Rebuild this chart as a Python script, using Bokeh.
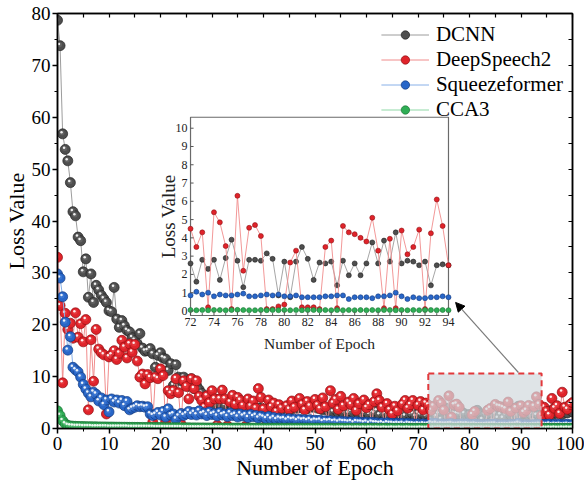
import math
from bokeh.plotting import figure
from bokeh.models import (Range1d, LinearAxis, FixedTicker, Legend, LegendItem,
                          Arrow, NormalHead, ColumnDataSource)
from bokeh.core.properties import value
from bokeh.embed import file_html
from bokeh.resources import INLINE

# ---------------- data ----------------
EPOCHS = [i / 2 for i in range(201)]

DCNN = [
    78.7, 73.8, 56.8, 53.8, 51.6, 47.4, 41.8, 41.0, 36.9, 36.2,
    30.2, 32.7, 25.3, 29.8, 24.3, 27.6, 26.7, 25.7, 25.0, 24.3,
    22.7, 22.5, 27.2, 21.1, 19.5, 20.8, 19.8, 18.9, 18.6, 17.5,
    17.0, 16.3, 18.3, 15.5, 14.9, 15.0, 15.4, 14.4, 11.8, 14.1,
    14.6, 13.6, 13.4, 11.2, 12.5, 8.3, 12.3, 9.9, 9.2, 9.9,
    8.9, 8.1, 9.6, 7.7, 8.3, 7.5, 6.8, 6.0, 5.1, 6.2,
    5.5, 4.6, 5.6, 4.8, 5.3, 4.4, 5.0, 4.7, 4.2, 4.9,
    4.5, 3.9, 4.6, 4.1, 4.4, 3.6, 4.2, 3.8, 3.5, 4.0,
    3.4, 3.7, 3.2, 3.8, 3.5, 3.1, 3.6, 3.3, 3.9, 3.4,
    4.1, 3.7, 4.3, 3.9, 4.6, 4.0, 4.4, 3.8, 4.5, 4.1,
    4.8, 3.9, 4.3, 3.6, 4.0, 3.5, 3.8, 3.2, 3.6, 3.1,
    3.4, 3.0, 3.5, 2.9, 3.3, 3.0, 3.4, 2.8, 3.2, 2.9,
    3.3, 2.7, 3.1, 2.9, 3.4, 2.6, 3.0, 2.8, 3.2, 2.5,
    3.0, 2.7, 3.1, 2.6, 2.9, 2.4, 3.0, 2.7, 2.8, 2.3,
    2.9, 2.6, 2.8, 2.4, 2.6, 1.6, 2.8, 2.3, 2.8, 1.7,
    2.9, 3.9, 2.75, 1.3, 2.8, 2.8, 2.75, 3.15, 2.85, 0.85,
    2.7, 0.75, 2.7, 3.5, 2.85, 1.7, 2.65, 2.6, 2.7, 1.4,
    2.75, 1.95, 2.6, 1.95, 2.6, 3.75, 2.6, 3.85, 2.7, 4.3,
    2.6, 2.75, 2.7, 2.5, 2.7, 1.4, 2.5, 2.55, 2.5, 3.1,
    2.8, 3.4, 2.6, 3.2, 2.9, 3.5, 2.7, 3.3, 3.0, 3.6,
    3.2,
]

DEEPSPEECH2 = [
    33.0, 23.7, 8.8, 22.2, 19.1, 20.3, 17.4, 22.3, 17.6, 20.2,
    16.7, 21.0, 3.6, 17.1, 9.1, 19.1, 15.3, 14.6, 14.2, 2.8,
    13.8, 14.2, 15.0, 13.3, 14.5, 17.0, 15.7, 13.6, 16.3, 14.7,
    16.2, 13.0, 9.9, 10.5, 8.6, 10.4, 9.8, 1.2, 9.9, 9.6,
    11.5, 10.2, 1.3, 7.3, 6.7, 7.3, 9.6, 6.9, 0.8, 9.2,
    8.1, 5.7, 9.6, 7.7, 9.2, 6.2, 5.4, 4.1, 6.3, 5.0,
    7.3, 5.7, 0.6, 5.7, 7.4, 5.7, 0.5, 5.1, 6.4, 4.7,
    6.0, 5.4, 4.4, 0.4, 5.7, 4.3, 5.3, 3.9, 7.7, 6.0,
    3.8, 0.5, 5.5, 4.2, 4.9, 3.3, 4.6, 3.9, 0.6, 4.4,
    3.7, 5.3, 4.1, 0.4, 5.8, 4.7, 3.6, 5.2, 4.3, 0.5,
    5.6, 4.5, 3.8, 5.9, 4.2, 0.4, 7.3, 4.9, 5.6, 3.7,
    6.2, 4.4, 0.3, 5.1, 4.6, 5.8, 3.5, 4.8, 0.4, 5.5,
    4.0, 4.6, 0.3, 5.2, 6.7, 5.4, 4.1, 0.4, 4.8, 3.6,
    2.8, 4.3, 3.4, 0.3, 4.7, 5.4, 3.9, 4.6, 5.4, 0.3,
    4.5, 5.2, 3.6, 4.9, 4.5, 3.5, 4.3, 0.2, 5.4, 4.85,
    3.55, 0.1, 6.3, 2.2, 4.55, 4.7, 4.1, 0.1, 0.1, 0.25,
    0.35, 2.65, 3.3, 0.2, 0.2, 0.2, 0.1, 3.5, 3.85, 0.15,
    4.65, 4.3, 4.2, 4.0, 3.8, 5.1, 3.3, 0.15, 3.95, 0.15,
    4.4, 3.1, 3.5, 4.45, 0.1, 4.25, 6.1, 4.65, 2.5, 4.1,
    3.3, 2.6, 5.8, 3.9, 4.4, 2.9, 7.0, 4.1, 3.7, 4.6,
    5.0,
]

SQUEEZEFORMER = [
    29.8, 29.0, 25.4, 20.5, 15.1, 17.7, 11.8, 11.3, 10.9, 9.9,
    8.5, 7.6, 6.8, 6.1, 7.0, 6.6, 5.3, 5.9, 4.6, 5.5,
    3.2, 5.7, 5.1, 5.5, 4.9, 5.4, 4.4, 5.2, 3.6, 3.9,
    4.1, 4.4, 4.2, 4.3, 4.1, 4.2, 2.8, 2.5, 2.7, 3.1,
    2.6, 3.3, 2.2, 3.8, 2.6, 2.8, 1.8, 2.4, 2.9, 2.5,
    2.8, 3.3, 2.7, 3.1, 2.6, 3.4, 2.8, 3.0, 2.5, 3.2,
    2.7, 2.9, 2.4, 3.1, 2.6, 2.8, 2.3, 3.0, 2.5, 2.7,
    2.2, 2.8, 2.4, 2.6, 2.1, 2.7, 2.3, 2.5, 2.0, 2.4,
    2.2, 1.9, 2.3, 1.8, 2.1, 1.7, 2.0, 1.8, 1.9, 1.6,
    1.9, 1.7, 1.8, 1.5, 1.8, 1.6, 1.7, 1.5, 1.7, 1.4,
    1.6, 1.5, 1.6, 1.3, 1.5, 1.4, 1.5, 1.3, 1.4, 1.2,
    1.4, 1.3, 1.3, 1.2, 1.3, 1.1, 1.3, 1.2, 1.2, 1.1,
    1.2, 1.0, 1.2, 1.1, 1.1, 1.0, 1.1, 0.9, 1.1, 1.0,
    1.0, 0.9, 1.0, 0.9, 1.0, 0.8, 1.0, 0.9, 0.9, 0.8,
    0.9, 0.8, 0.9, 0.8, 0.85, 1.05, 0.9, 1.0, 0.8, 0.9,
    0.85, 0.85, 0.9, 0.95, 0.8, 0.8, 0.85, 0.9, 0.85, 0.9,
    0.8, 0.8, 0.85, 0.75, 0.75, 0.75, 0.75, 0.8, 0.8, 0.85,
    0.85, 0.65, 0.75, 0.75, 0.75, 0.7, 0.8, 0.8, 0.85, 1.0,
    0.8, 0.65, 0.75, 0.7, 0.7, 0.75, 0.75, 0.8, 0.75, 0.8,
    0.75, 0.85, 0.7, 0.8, 0.75, 0.8, 0.7, 0.75, 0.8, 0.7,
    0.75,
]

CCA3 = [
    3.4, 2.5, 1.5, 0.9, 0.6, 0.5, 0.45, 0.42, 0.4, 0.38,
    0.37, 0.36, 0.35, 0.34, 0.33, 0.32, 0.31, 0.3, 0.3, 0.29,
    0.28, 0.28, 0.27, 0.26, 0.26, 0.25, 0.25, 0.24, 0.23, 0.23,
    0.22, 0.22, 0.21, 0.21, 0.2, 0.2, 0.19, 0.19, 0.18, 0.18,
    0.17, 0.17, 0.16, 0.16, 0.15, 0.15, 0.15, 0.14, 0.14, 0.13,
    0.13, 0.13, 0.12, 0.12, 0.12, 0.11, 0.11, 0.11, 0.1, 0.1,
    0.10, 0.09, 0.10, 0.09, 0.09, 0.08, 0.09, 0.08, 0.08, 0.08,
    0.08, 0.07, 0.08, 0.07, 0.07, 0.08, 0.07, 0.07, 0.06, 0.07,
    0.07, 0.06, 0.07, 0.06, 0.06, 0.07, 0.06, 0.06, 0.06, 0.05,
    0.06, 0.06, 0.05, 0.06, 0.05, 0.06, 0.05, 0.05, 0.06, 0.05,
    0.05, 0.06, 0.05, 0.05, 0.05, 0.06, 0.05, 0.05, 0.04, 0.05,
    0.05, 0.05, 0.04, 0.05, 0.05, 0.04, 0.05, 0.05, 0.04, 0.05,
    0.04, 0.05, 0.05, 0.04, 0.05, 0.04, 0.04, 0.05, 0.04, 0.04,
    0.05, 0.04, 0.04, 0.05, 0.04, 0.04, 0.05, 0.04, 0.04, 0.04,
    0.04, 0.05, 0.04, 0.04, 0.05, 0.04, 0.05, 0.04, 0.05, 0.05,
    0.04, 0.05, 0.06, 0.05, 0.04, 0.04, 0.05, 0.04, 0.05, 0.04,
    0.05, 0.04, 0.05, 0.04, 0.05, 0.05, 0.04, 0.05, 0.04, 0.05,
    0.04, 0.05, 0.04, 0.05, 0.04, 0.05, 0.04, 0.05, 0.05, 0.04,
    0.05, 0.04, 0.05, 0.04, 0.05, 0.05, 0.04, 0.05, 0.04, 0.05,
    0.04, 0.05, 0.04, 0.05, 0.04, 0.04, 0.05, 0.04, 0.05, 0.04,
    0.05,
]

SERIES_NAMES = ["DCNN", "DeepSpeech2", "Squeezeformer", "CCA3"]
SERIES_VALUES = [DCNN, DEEPSPEECH2, SQUEEZEFORMER, CCA3]

X_TICKS = [0, 10, 20, 30, 40, 50, 60, 70, 80, 90, 100]
Y_TICKS = [0, 10, 20, 30, 40, 50, 60, 70, 80]
INSET_X_TICKS = [72, 74, 76, 78, 80, 82, 84, 86, 88, 90, 92, 94]
INSET_Y_TICKS = [0, 1, 2, 3, 4, 5, 6, 7, 8, 9, 10]

ZOOM_X = (72, 94)
ZOOM_Y = (-0.25, 10.6)

for s in SERIES_VALUES:
    assert len(s) == len(EPOCHS), len(s)

# ---------------- style ----------------
SERIF = "Liberation Serif"
STYLES = {
    "DCNN":          dict(base="#4e4e4e", edge="#222222", mid="#8e8e8e", line="#9c9c9c"),
    "DeepSpeech2":   dict(base="#e0232a", edge="#8e1014", mid="#f26a6a", line="#f08c8c"),
    "Squeezeformer": dict(base="#2866c8", edge="#143b80", mid="#6e9fe8", line="#88b0e8"),
    "CCA3":          dict(base="#2fae55", edge="#1c7436", mid="#80d69c", line="#8fd8a6"),
}

p = figure(width=584, height=483, x_range=Range1d(0, 100), y_range=Range1d(0, 80),
           output_backend="svg", toolbar_location=None,
           min_border_left=57, min_border_right=12, min_border_top=13, min_border_bottom=55,
           x_axis_label="Number of Epoch", y_axis_label="Loss Value")
p.grid.visible = False
p.outline_line_color = "black"
p.outline_line_width = 1.5
p.background_fill_color = "white"
p.border_fill_color = "white"

x_minor = [t + 5 for t in X_TICKS[:-1]]
y_minor = [t + 5 for t in Y_TICKS[:-1]]
p.xaxis.ticker = FixedTicker(ticks=X_TICKS, minor_ticks=x_minor)
p.yaxis.ticker = FixedTicker(ticks=Y_TICKS, minor_ticks=y_minor)
for ax in (p.xaxis[0], p.yaxis[0]):
    ax.axis_line_width = 1.5
    ax.major_tick_line_width = 1.5
    ax.minor_tick_line_width = 1
    ax.major_tick_out = 5
    ax.major_tick_in = 0
    ax.minor_tick_out = 3
    ax.minor_tick_in = 0
    ax.major_label_text_font = SERIF
    ax.major_label_text_font_size = "19px"
    ax.major_label_text_color = "black"
    ax.axis_label_text_font = SERIF
    ax.axis_label_text_font_size = "22px"
    ax.axis_label_text_font_style = "normal"
    ax.axis_label_text_color = "black"
p.xaxis.major_label_standoff = 3
p.xaxis.axis_label_standoff = 2
p.yaxis.major_label_standoff = 2
p.yaxis.axis_label_standoff = 0

# mirrored tick marks on top/right (minor-only ticker -> no labels)
top_ax = LinearAxis(ticker=FixedTicker(ticks=[], minor_ticks=X_TICKS + x_minor),
                    minor_tick_in=4, minor_tick_out=0, axis_line_width=1.5,
                    minor_tick_line_width=1.2)
right_ax = LinearAxis(ticker=FixedTicker(ticks=[], minor_ticks=Y_TICKS + y_minor),
                      minor_tick_in=4, minor_tick_out=0, axis_line_width=1.5,
                      minor_tick_line_width=1.2)
p.add_layout(top_ax, "above")
p.add_layout(right_ax, "right")

# ---------------- main series (shaded spheres) ----------------
DX, DY = -0.22, 0.32   # highlight offset in data units (sphere shading)
legend_items = []
for name, vals in zip(SERIES_NAMES, SERIES_VALUES):
    st = STYLES[name]
    src = ColumnDataSource(dict(
        x=EPOCHS, y=vals,
        xm=[x + DX * 0.5 for x in EPOCHS], ym=[y + DY * 0.5 for y in vals],
        xh=[x + DX for x in EPOCHS], yh=[y + DY for y in vals],
    ))
    lr = p.line("x", "y", source=src, line_color=st["line"], line_width=1)
    br = p.scatter("x", "y", source=src, size=10, marker="circle",
                   fill_color=st["base"], line_color=st["edge"], line_width=0.7)
    p.scatter("xm", "ym", source=src, size=5, marker="circle",
              fill_color=st["mid"], fill_alpha=0.3, line_alpha=0)
    p.scatter("xh", "yh", source=src, size=2.5, marker="circle",
              fill_color="white", fill_alpha=0.9, line_alpha=0)
    legend_items.append(LegendItem(label=name, renderers=[lr, br]))

# zoomed region highlight
p.quad(left=ZOOM_X[0], right=ZOOM_X[1], bottom=0, top=ZOOM_Y[1],
       fill_color="#d2d9de", fill_alpha=0.72, line_color="#e2383b",
       line_width=2, line_dash="6 4")

# ---------------- inset ----------------
INSET_BOX_X = (25.83, 75.92)   # placement of the inset inside the main plot
INSET_BOX_Y = (21.78, 60.0)

p.quad(left=INSET_BOX_X[0], right=INSET_BOX_X[1], bottom=INSET_BOX_Y[0], top=INSET_BOX_Y[1],
       fill_color="white", line_color="#6a6a6a", line_width=1.2)

sub = p.subplot(x_source=Range1d(*ZOOM_X), y_source=Range1d(*ZOOM_Y),
                x_target=Range1d(*INSET_BOX_X), y_target=Range1d(*INSET_BOX_Y))

idx = [i for i, x in enumerate(EPOCHS) if ZOOM_X[0] <= x <= ZOOM_X[1]]
for name, vals in zip(SERIES_NAMES, SERIES_VALUES):
    st = STYLES[name]
    isrc = ColumnDataSource(dict(x=[EPOCHS[i] for i in idx], y=[vals[i] for i in idx]))
    sub.line("x", "y", source=isrc, line_color=st["line"], line_width=0.9)
    sub.scatter("x", "y", source=isrc, size=5, marker="circle",
                fill_color=st["base"], line_color=st["edge"], line_width=0.6)

# inset ticks
tx_len = 0.26
ty_len = 0.16
x0, x1 = ZOOM_X
y0, y1 = ZOOM_Y
sub.segment(x0=INSET_X_TICKS, y0=[y0] * len(INSET_X_TICKS),
            x1=INSET_X_TICKS, y1=[y0 + ty_len * 1.3] * len(INSET_X_TICKS),
            line_color="#555555", line_width=1)
inset_x_minor = [t + 1 for t in INSET_X_TICKS[:-1]]
sub.segment(x0=inset_x_minor, y0=[y0] * len(inset_x_minor),
            x1=inset_x_minor, y1=[y0 + ty_len * 0.8] * len(inset_x_minor),
            line_color="#555555", line_width=1)
sub.segment(x0=[x0] * len(INSET_Y_TICKS), y0=INSET_Y_TICKS,
            x1=[x0 + tx_len] * len(INSET_Y_TICKS), y1=INSET_Y_TICKS,
            line_color="#555555", line_width=1)

sub.text(x=INSET_X_TICKS, y=[y0] * len(INSET_X_TICKS), text=[str(t) for t in INSET_X_TICKS],
         y_offset=2, text_align="center", text_baseline="top",
         text_font=value(SERIF), text_font_size="12px", text_color="#222222")
sub.text(x=[x0] * len(INSET_Y_TICKS), y=INSET_Y_TICKS, text=[str(t) for t in INSET_Y_TICKS],
         x_offset=-3, text_align="right", text_baseline="middle",
         text_font=value(SERIF), text_font_size="12px", text_color="#222222")
sub.text(x=[(x0 + x1) / 2], y=[y0], text=["Number of Epoch"], y_offset=28,
         text_align="center", text_baseline="middle",
         text_font=value(SERIF), text_font_size="15.5px", text_color="#222222")
sub.text(x=[x0], y=[(y0 + y1) / 2], text=["Loss Value"], x_offset=-22, angle=math.pi / 2,
         text_align="center", text_baseline="middle",
         text_font=value(SERIF), text_font_size="19px", text_color="#222222")

# arrow from zoom box to inset
p.add_layout(Arrow(end=NormalHead(size=9, fill_color="black", line_color="black"),
                   x_start=89.5, y_start=10.8, x_end=77.3, y_end=24.3,
                   line_color="#7a7a7a", line_width=1.2))

# ---------------- legend ----------------
legend = Legend(items=legend_items, location="top_right",
                label_text_font=SERIF, label_text_font_size="21px",
                label_text_color="black", label_height=21, glyph_height=21,
                glyph_width=48, label_standoff=7, label_width=126, spacing=0,
                padding=1, margin=8, border_line_alpha=0, background_fill_alpha=0)
p.add_layout(legend)

open("out.html", "w").write(file_html(p, INLINE))
